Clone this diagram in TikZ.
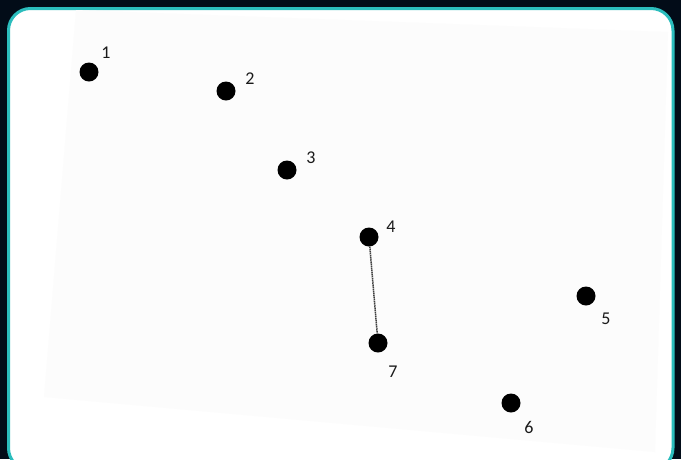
\documentclass[tikz,border=0pt]{standalone}
\usepackage{fontspec}
\setmainfont{Carlito}
\definecolor{bgdark}{HTML}{020C18}
\definecolor{frameteal}{HTML}{2BBDBD}
\definecolor{paper}{HTML}{FCFCFC}
\definecolor{labelcol}{HTML}{1A1A1A}
\begin{document}
\begin{tikzpicture}[x=1pt,y=-1pt,
  dot/.style={circle,fill=black,inner sep=0pt,minimum size=19pt},
  lbl/.style={text=labelcol,font=\fontsize{18}{21}\selectfont,inner sep=0pt},
  link/.style={draw=black!75,line width=1.5pt,dash pattern=on 1.5pt off 0.6pt}]
\useasboundingbox (0,0) rectangle (681,459);
\fill[bgdark] (0,0) rectangle (681,459);
\draw[frameteal,line width=3pt,fill=white,rounded corners=22pt] (8.5,8.5) rectangle (673,470);
\fill[paper] (76,10) -- (668,32) -- (655,452) -- (44,397) -- cycle;
\node[dot] (n1) at (89,72) {};
\node[dot] (n2) at (226,91) {};
\node[dot] (n3) at (287,170) {};
\node[dot] (n4) at (369,237) {};
\node[dot] (n5) at (586,296) {};
\node[dot] (n6) at (511,403) {};
\node[dot] (n7) at (378,343) {};
\node[lbl] (l1) at (106,53) {1};
\node[lbl] (l2) at (250,79) {2};
\node[lbl] (l3) at (311,158) {3};
\node[lbl] (l4) at (391,227) {4};
\node[lbl] (l5) at (606,319) {5};
\node[lbl] (l6) at (529,427) {6};
\node[lbl] (l7) at (393,372) {7};
\draw[link] (n4) -- (n7);
\end{tikzpicture}
\end{document}
